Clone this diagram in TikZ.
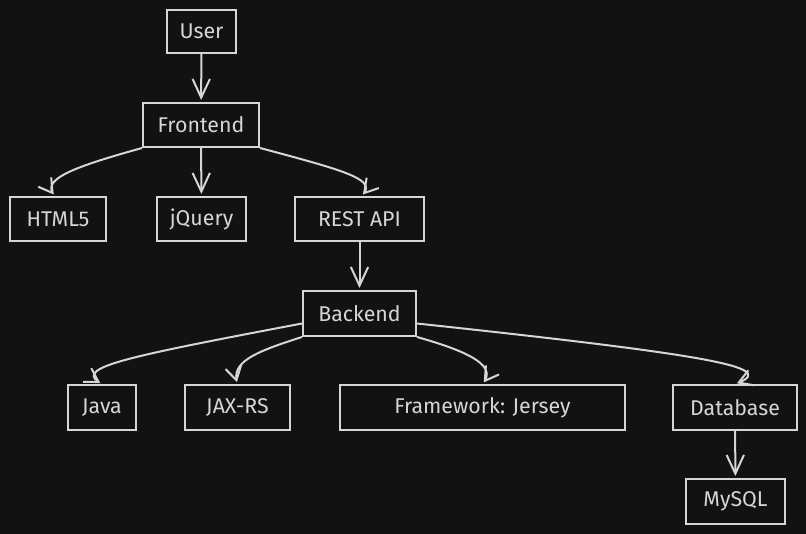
\documentclass[tikz,border=0pt]{standalone}
\usepackage{fontspec}
\setmainfont{Fira Sans}
\usetikzlibrary{arrows.meta,bending}
\definecolor{bg}{HTML}{121212}
\definecolor{ink}{HTML}{D6D6D6}
\begin{document}
\begin{tikzpicture}[x=0.75pt,y=-0.75pt,
  box/.style={draw=ink, line width=1.5pt, text=ink, font=\fontsize{16}{18}\selectfont, inner sep=0pt, anchor=center},
  arr/.style={draw=ink, line width=1.5pt, shorten >=1.5pt, -{Straight Barb[length=14pt,width=13pt,line width=1.5pt]}},
  carr/.style={draw=ink, line width=1.5pt, shorten >=1.5pt, -{Straight Barb[length=10pt,width=12pt,line width=1.5pt,flex]}}]
\fill[bg] (0,0) rectangle (806,534);
\useasboundingbox (0,0) rectangle (806,534);
\node[box, minimum width=69*0.75pt, minimum height=43*0.75pt] (user) at (201.5,31.5) {User};
\node[box, minimum width=116*0.75pt, minimum height=44*0.75pt] (front) at (201,125) {Frontend};
\node[box, minimum width=96*0.75pt, minimum height=44*0.75pt] (html) at (58,219) {HTML5};
\node[box, minimum width=89*0.75pt, minimum height=44*0.75pt] (jq) at (201.5,219) {jQuery};
\node[box, minimum width=129*0.75pt, minimum height=44*0.75pt] (rest) at (359.5,219) {REST API};
\node[box, minimum width=113*0.75pt, minimum height=45*0.75pt] (back) at (359.5,313.5) {Backend};
\node[box, minimum width=68*0.75pt, minimum height=45*0.75pt] (java) at (102,407.5) {Java};
\node[box, minimum width=105*0.75pt, minimum height=45*0.75pt] (jax) at (237.5,407.5) {JAX-RS};
\node[box, minimum width=285*0.75pt, minimum height=45*0.75pt] (fw) at (482.5,407.5) {Framework: Jersey};
\node[box, minimum width=124*0.75pt, minimum height=45*0.75pt] (db) at (735,407.5) {Database};
\node[box, minimum width=99*0.75pt, minimum height=45*0.75pt] (mysql) at (735.5,501.5) {MySQL};
\draw[arr] (user) -- (front);
\draw[arr] (front) -- (jq);
\draw[arr] (rest) -- (back);
\draw[arr] (db) -- (mysql);
\draw[carr] (front.south west) .. controls (70,168) and (40,180) .. ([xshift=-3*0.75pt]html.north);
\draw[carr] (front.south east) .. controls (350,172) and (378,180) .. ([xshift=2*0.75pt]rest.north);
\draw[carr] ([yshift=-10*0.75pt]back.west) .. controls (120,358) and (72,368) .. (java.north);
\draw[carr] (back.south west) .. controls (255,352) and (230,362) .. (jax.north);
\draw[carr] (back.south east) .. controls (470,352) and (498,366) .. (fw.north);
\draw[carr] ([yshift=-10*0.75pt]back.east) .. controls (720,356) and (780,368) .. (db.north);
\end{tikzpicture}
\end{document}
